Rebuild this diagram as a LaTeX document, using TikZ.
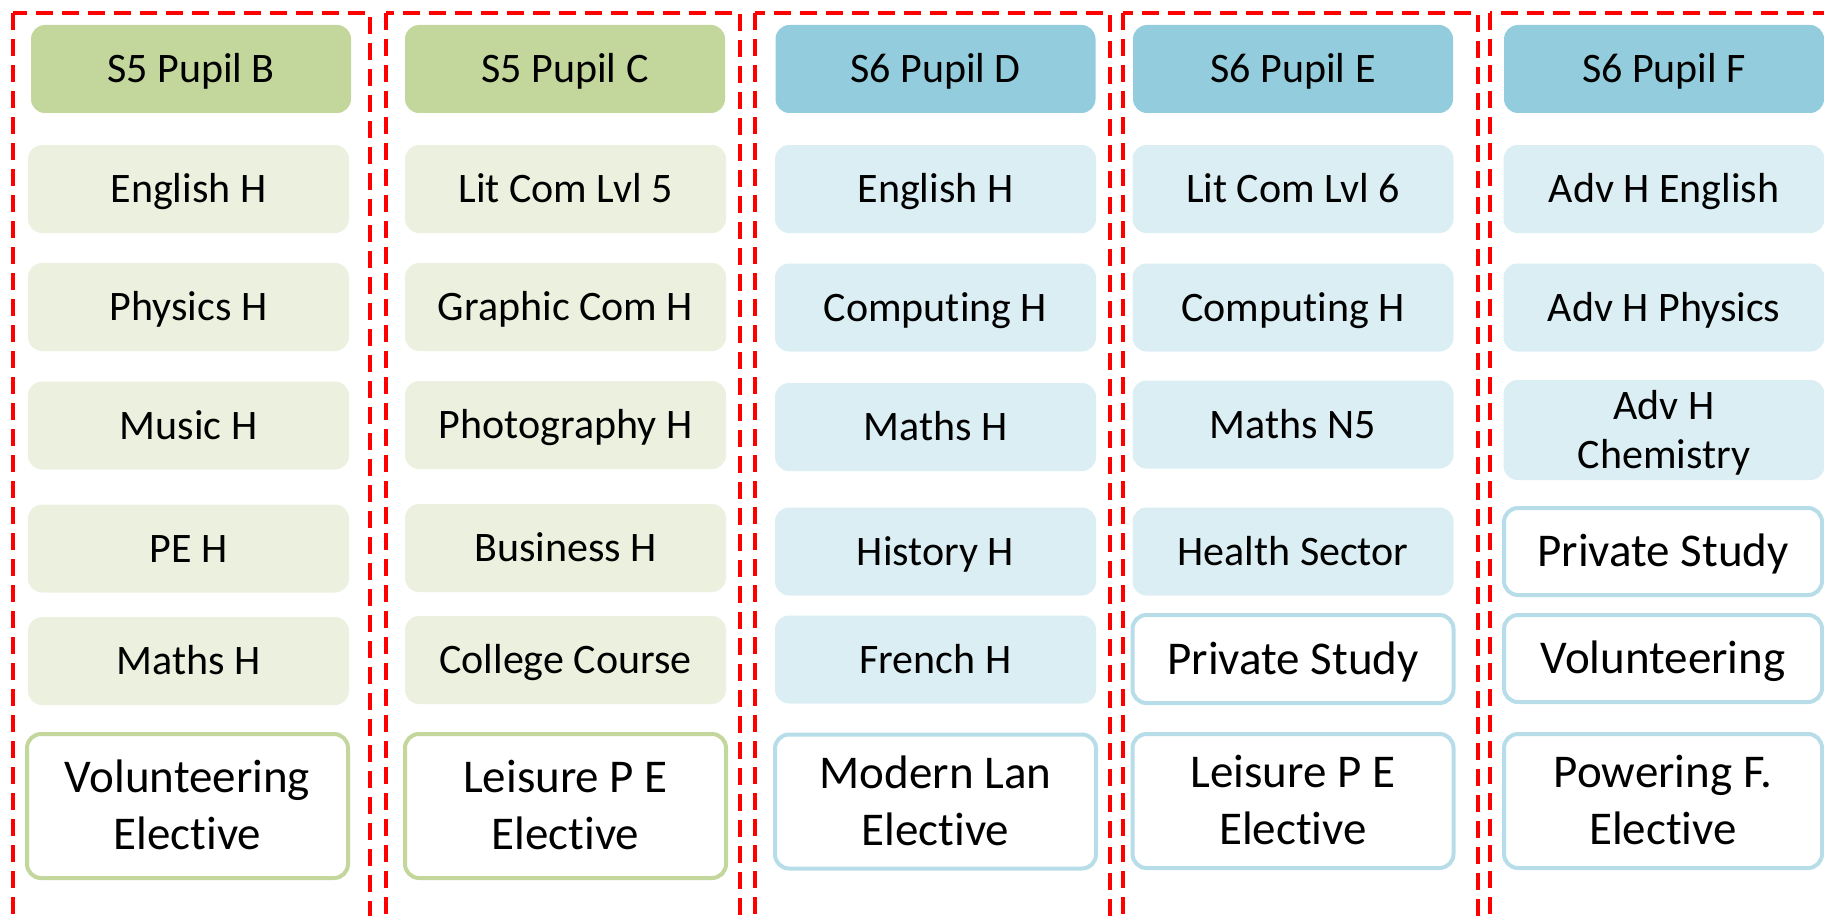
\documentclass[tikz,border=0pt]{standalone}
\usepackage{fontspec}
\setmainfont{Carlito}[Ligatures=NoCommon]
\definecolor{hgreen}{HTML}{C3D69B}
\definecolor{lgreen}{HTML}{EBF1DE}
\definecolor{hblue}{HTML}{93CDDD}
\definecolor{lblue}{HTML}{DBEEF4}
\definecolor{oblue}{HTML}{B7DDE8}
\definecolor{dred}{HTML}{FF0000}
\begin{document}
\begin{tikzpicture}[x=0.5pt,y=-0.5pt,
  base/.style={rounded corners=7pt, align=center, inner sep=0pt, text=black},
  small/.style={font=\fontsize{21}{24.5}\selectfont, text height=13.5pt, text depth=0pt},
  big/.style={font=\fontsize{23.5}{28.5}\selectfont, text height=15.1pt, text depth=0pt},
  twobig/.style={text height=43.6pt, text depth=0pt},
  twosmall/.style={text height=38pt, text depth=0pt},
  hdrG/.style={base, small, fill=hgreen, minimum width=160pt, minimum height=44pt},
  hdrB/.style={base, small, fill=hblue, minimum width=160pt, minimum height=44pt},
  itemG/.style={base, small, fill=lgreen, minimum width=160.5pt, minimum height=44pt},
  itemB/.style={base, small, fill=lblue, minimum width=160.5pt, minimum height=44pt},
  outG/.style={base, big, draw=hgreen, line width=2pt, fill=white, minimum width=160.5pt, minimum height=72pt},
  outB/.style={base, big, draw=oblue, line width=2pt, fill=white, minimum width=160.5pt, minimum height=67pt},
  frame/.style={draw=dred, line width=2pt, dash pattern=on 8.5pt off 4.5pt}
]
\useasboundingbox (0,0) rectangle (1824,915);
\clip (0,0) rectangle (1824,915);
% dashed column frames
\draw[frame] (13,13) rectangle (370,950);
\draw[frame] (386,13) rectangle (740,950);
\draw[frame] (755,13) rectangle (1110,950);
\draw[frame] (1123,13) rectangle (1478,950);
\draw[frame] (1490,13) rectangle (1880,950);
% column 1
\node[hdrG] (h1) at (191,69) {S5 Pupil B};
\node[itemG] (a1) at (188.5,189) {English H};
\node[itemG] (b1) at (188.5,307) {Physics H};
\node[itemG] (c1) at (188.5,425.5) {Music H};
\node[itemG] (d1) at (188.5,548.5) {PE H};
\node[itemG] (e1) at (188.5,661) {Maths H};
\node[outG, twobig] (f1) at (187.5,806) {Volunteering\\Elective};
% column 2
\node[hdrG] (h2) at (565,69) {S5 Pupil C};
\node[itemG] (a2) at (565.5,189) {Lit Com Lvl 5};
\node[itemG] (b2) at (565.5,307) {Graphic Com H};
\node[itemG] (c2) at (565.5,425) {Photography H};
\node[itemG] (d2) at (565.5,548) {Business H};
\node[itemG] (e2) at (565.5,660) {College Course};
\node[outG, twobig] (f2) at (565.5,806) {Leisure P E\\Elective};
% column 3
\node[hdrB] (h3) at (935.5,69) {S6 Pupil D};
\node[itemB] (a3) at (935.5,189) {English H};
\node[itemB] (b3) at (935.5,307.5) {Computing H};
\node[itemB] (c3) at (935.5,427) {Maths H};
\node[itemB] (d3) at (935.5,551.5) {History H};
\node[itemB] (e3) at (935.5,659.5) {French H};
\node[outB, twobig] (f3) at (935.5,801.5) {Modern Lan\\Elective};
% column 4
\node[hdrB] (h4) at (1293,69) {S6 Pupil E};
\node[itemB] (a4) at (1293,189) {Lit Com Lvl 6};
\node[itemB] (b4) at (1293,307.5) {Computing H};
\node[itemB] (c4) at (1293,424.5) {Maths N5};
\node[itemB] (d4) at (1293,551.5) {Health Sector};
\node[outB, minimum height=44pt] (e4) at (1293,659) {Private Study};
\node[outB, twobig] (f4) at (1293,801) {Leisure P E\\Elective};
% column 5
\node[hdrB] (h5) at (1664,69) {S6 Pupil F};
\node[itemB] (a5) at (1664,189) {Adv H English};
\node[itemB] (b5) at (1664,307.5) {Adv H Physics};
\node[itemB, twosmall, minimum height=50pt] (c5) at (1664,430) {Adv H\\Chemistry};
\node[outB, minimum width=159pt, minimum height=43.5pt] (d5) at (1663,551.5) {Private Study};
\node[outB, minimum width=159pt, minimum height=43.5pt] (e5) at (1663,658.5) {Volunteering};
\node[outB, twobig, minimum width=159pt] (f5) at (1663,801) {Powering F.\\Elective};
\end{tikzpicture}
\end{document}
